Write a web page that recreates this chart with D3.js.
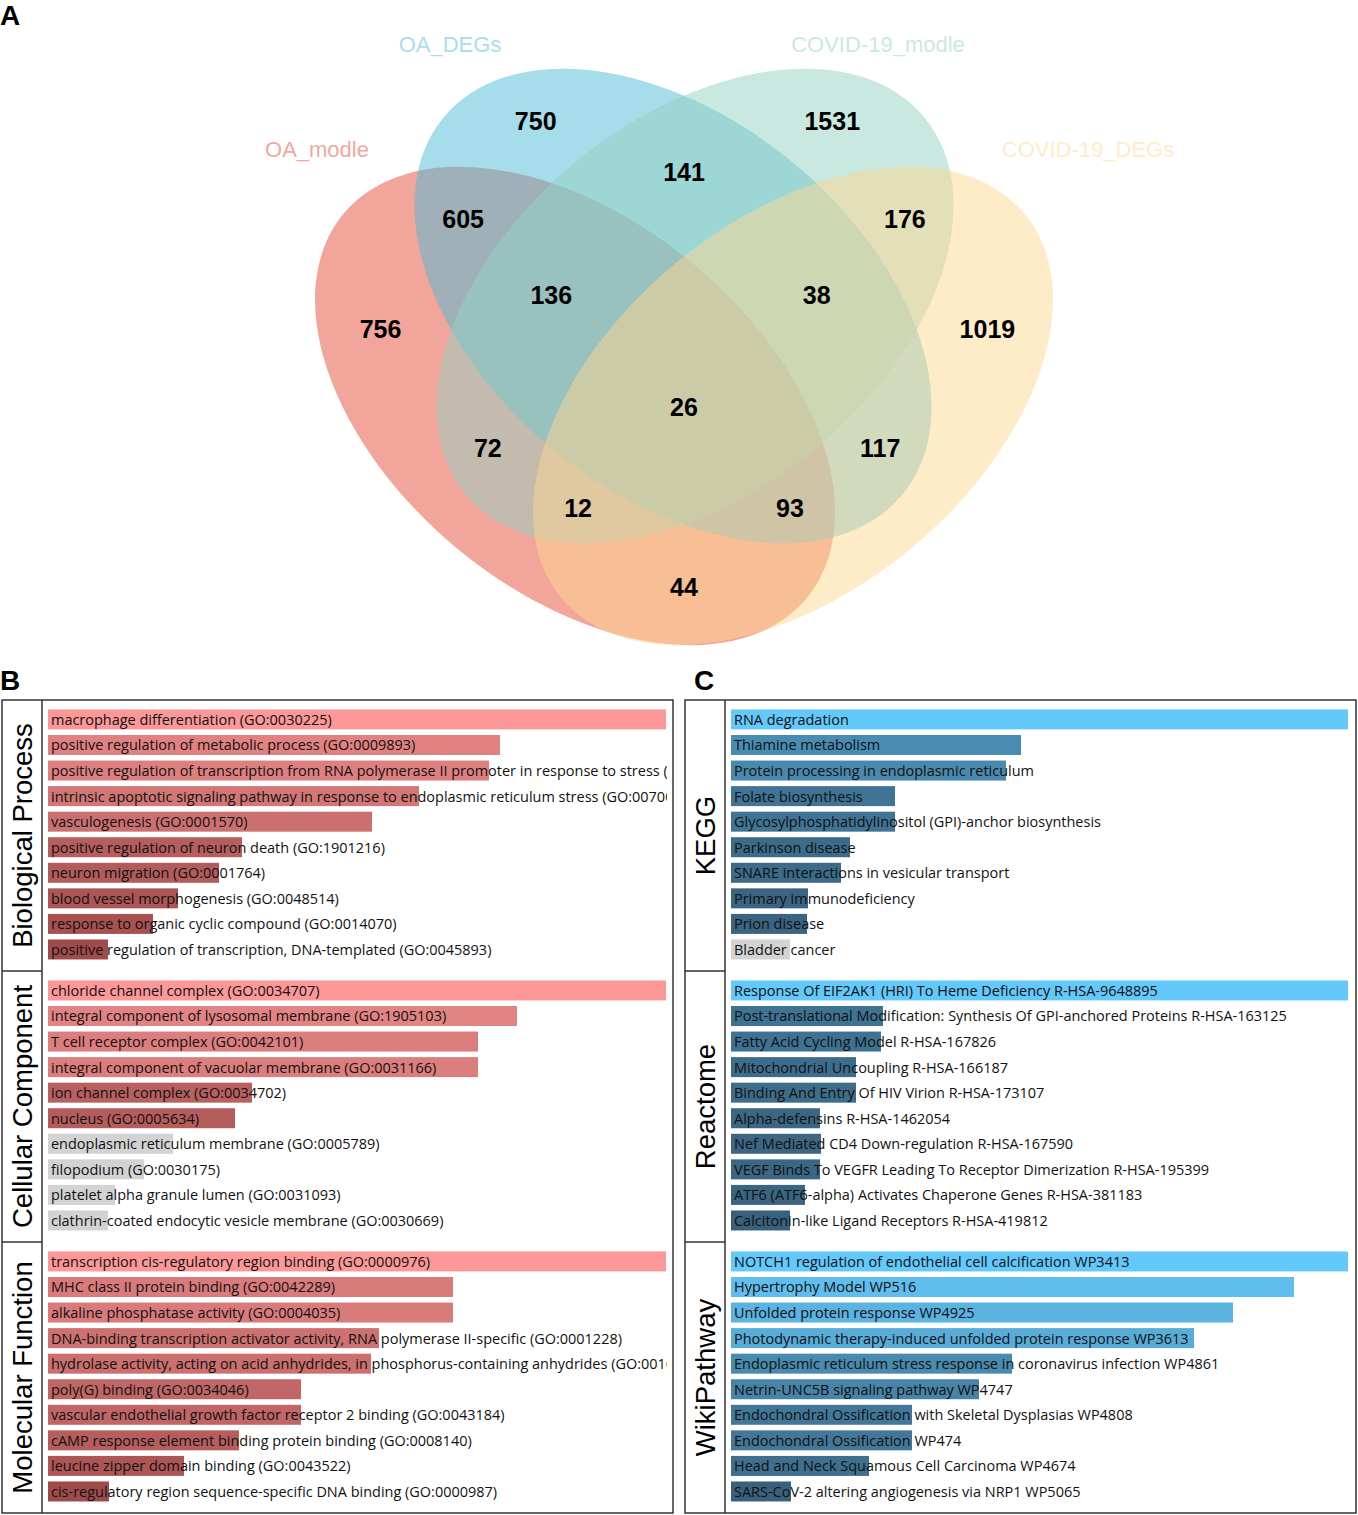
<!DOCTYPE html>
<html>
<head>
<meta charset="utf-8">
<script src="https://cdn.jsdelivr.net/npm/d3@7"></script>
<style>
  body { margin: 0; background: #fff; }
  svg { display: block; }
</style>
</head>
<body>
<svg id="chart" width="1358" height="1515"></svg>
<script>
// ================= DATA =================
// Venn: four sets and the counts of each region (keys list the sets a region belongs to)
const setNames = ["OA_modle", "OA_DEGs", "COVID-19_modle", "COVID-19_DEGs"];
const setKeys = ["A", "B", "C", "D"];
const regionKeys = ["A", "B", "C", "D", "AB", "BC", "CD", "AD", "AC", "BD", "ABC", "BCD", "ACD", "ABD", "ABCD"];
const regionCounts = [756, 750, 1531, 1019, 605, 141, 176, 44, 72, 117, 136, 38, 12, 93, 26];

// Panel B: GO enrichment
const goCategories = ["Biological Process", "Cellular Component", "Molecular Function"];
const bpTerms = [
  "macrophage differentiation (GO:0030225)",
  "positive regulation of metabolic process (GO:0009893)",
  "positive regulation of transcription from RNA polymerase II promoter in response to stress (GO:0036003)",
  "intrinsic apoptotic signaling pathway in response to endoplasmic reticulum stress (GO:0070059)",
  "vasculogenesis (GO:0001570)",
  "positive regulation of neuron death (GO:1901216)",
  "neuron migration (GO:0001764)",
  "blood vessel morphogenesis (GO:0048514)",
  "response to organic cyclic compound (GO:0014070)",
  "positive regulation of transcription, DNA-templated (GO:0045893)"
];
const bpScores = [6.18, 4.52, 4.41, 3.71, 3.24, 1.94, 1.71, 1.30, 1.05, 0.60];
const bpSignificant = [1, 1, 1, 1, 1, 1, 1, 1, 1, 1];

const ccTerms = [
  "chloride channel complex (GO:0034707)",
  "integral component of lysosomal membrane (GO:1905103)",
  "T cell receptor complex (GO:0042101)",
  "integral component of vacuolar membrane (GO:0031166)",
  "ion channel complex (GO:0034702)",
  "nucleus (GO:0005634)",
  "endoplasmic reticulum membrane (GO:0005789)",
  "filopodium (GO:0030175)",
  "platelet alpha granule lumen (GO:0031093)",
  "clathrin-coated endocytic vesicle membrane (GO:0030669)"
];
const ccScores = [6.18, 4.69, 4.30, 4.30, 2.04, 1.87, 1.25, 0.96, 0.67, 0.60];
const ccSignificant = [1, 1, 1, 1, 1, 1, 0, 0, 0, 0];

const mfTerms = [
  "transcription cis-regulatory region binding (GO:0000976)",
  "MHC class II protein binding (GO:0042289)",
  "alkaline phosphatase activity (GO:0004035)",
  "DNA-binding transcription activator activity, RNA polymerase II-specific (GO:0001228)",
  "hydrolase activity, acting on acid anhydrides, in phosphorus-containing anhydrides (GO:0016818)",
  "poly(G) binding (GO:0034046)",
  "vascular endothelial growth factor receptor 2 binding (GO:0043184)",
  "cAMP response element binding protein binding (GO:0008140)",
  "leucine zipper domain binding (GO:0043522)",
  "cis-regulatory region sequence-specific DNA binding (GO:0000987)"
];
const mfScores = [6.18, 4.05, 4.05, 3.31, 3.23, 2.53, 2.53, 1.91, 1.36, 0.61];
const mfSignificant = [1, 1, 1, 1, 1, 1, 1, 1, 1, 1];

// Panel C: pathway enrichment
const pathCategories = ["KEGG", "Reactome", "WikiPathway"];
const keggTerms = [
  "RNA degradation",
  "Thiamine metabolism",
  "Protein processing in endoplasmic reticulum",
  "Folate biosynthesis",
  "Glycosylphosphatidylinositol (GPI)-anchor biosynthesis",
  "Parkinson disease",
  "SNARE interactions in vesicular transport",
  "Primary immunodeficiency",
  "Prion disease",
  "Bladder cancer"
];
const keggScores = [6.17, 2.90, 2.75, 1.64, 1.64, 1.19, 1.10, 0.77, 0.76, 0.59];
const keggSignificant = [1, 1, 1, 1, 1, 1, 1, 1, 1, 0];

const reactomeTerms = [
  "Response Of EIF2AK1 (HRI) To Heme Deficiency R-HSA-9648895",
  "Post-translational Modification: Synthesis Of GPI-anchored Proteins R-HSA-163125",
  "Fatty Acid Cycling Model R-HSA-167826",
  "Mitochondrial Uncoupling R-HSA-166187",
  "Binding And Entry Of HIV Virion R-HSA-173107",
  "Alpha-defensins R-HSA-1462054",
  "Nef Mediated CD4 Down-regulation R-HSA-167590",
  "VEGF Binds To VEGFR Leading To Receptor Dimerization R-HSA-195399",
  "ATF6 (ATF6-alpha) Activates Chaperone Genes R-HSA-381183",
  "Calcitonin-like Ligand Receptors R-HSA-419812"
];
const reactomeScores = [6.17, 1.52, 1.50, 1.25, 1.25, 0.89, 0.90, 0.89, 0.74, 0.59];
const reactomeSignificant = [1, 1, 1, 1, 1, 1, 1, 1, 1, 1];

const wikiTerms = [
  "NOTCH1 regulation of endothelial cell calcification WP3413",
  "Hypertrophy Model WP516",
  "Unfolded protein response WP4925",
  "Photodynamic therapy-induced unfolded protein response WP3613",
  "Endoplasmic reticulum stress response in coronavirus infection WP4861",
  "Netrin-UNC5B signaling pathway WP4747",
  "Endochondral Ossification with Skeletal Dysplasias WP4808",
  "Endochondral Ossification WP474",
  "Head and Neck Squamous Cell Carcinoma WP4674",
  "SARS-CoV-2 altering angiogenesis via NRP1 WP5065"
];
const wikiScores = [6.17, 5.63, 5.02, 4.63, 2.81, 2.48, 1.81, 1.81, 1.38, 0.60];
const wikiSignificant = [1, 1, 1, 1, 1, 1, 1, 1, 1, 1];

// ================= STYLE / LAYOUT =================
const setColors = ["#E64B35", "#4DBBD5", "#91D1C2", "#FDD792"];
const ellipseGeom = [ // pixel geometry of the four Venn ellipses
  { cx: 575, cy: 406, rx: 301, ry: 185, rot: 39.7 },
  { cx: 673, cy: 306, rx: 297, ry: 187, rot: 39.3 },
  { cx: 695, cy: 306, rx: 297, ry: 187, rot: -39.3 },
  { cx: 793, cy: 406, rx: 301, ry: 185, rot: -39.7 }
];
const setLabelPos = [[317, 157], [450, 52], [878, 52], [1088, 157]];
const sansFont = "'Liberation Sans', Arial, Helvetica, sans-serif";
const barFont = "'Open Sans', 'Noto Sans', sans-serif";

const svg = d3.select("#chart");

// ================= PANEL LETTERS =================
svg.selectAll("text.panel-letter")
  .data([["A", 0, 25], ["B", 0, 690], ["C", 694, 690]])
  .join("text")
  .attr("class", "panel-letter")
  .attr("x", d => d[1]).attr("y", d => d[2])
  .attr("font-family", sansFont).attr("font-weight", "bold").attr("font-size", 28)
  .attr("fill", "#000")
  .text(d => d[0]);

// ================= VENN =================
const venn = svg.append("g").attr("class", "venn");
const rad = Math.PI / 180;
function insideEllipse(e, x, y) {
  const c = Math.cos(e.rot * rad), s = Math.sin(e.rot * rad);
  const dx = x - e.cx, dy = y - e.cy;
  const u = dx * c + dy * s, v = -dx * s + dy * c;
  return (u * u) / (e.rx * e.rx) + (v * v) / (e.ry * e.ry) <= 1;
}

venn.selectAll("ellipse")
  .data(ellipseGeom)
  .join("ellipse")
  .attr("cx", 0).attr("cy", 0)
  .attr("rx", d => d.rx).attr("ry", d => d.ry)
  .attr("transform", d => `translate(${d.cx},${d.cy}) rotate(${d.rot})`)
  .attr("fill", (d, i) => setColors[i])
  .attr("fill-opacity", 0.5)
  .attr("stroke", "none");

venn.selectAll("text.set-label")
  .data(setNames)
  .join("text")
  .attr("class", "set-label")
  .attr("x", (d, i) => setLabelPos[i][0])
  .attr("y", (d, i) => setLabelPos[i][1])
  .attr("text-anchor", "middle")
  .attr("font-family", sansFont).attr("font-size", 22)
  .attr("fill", (d, i) => setColors[i]).attr("fill-opacity", 0.5)
  .text(d => d);

// Label anchor for every region: centroid of the region's "thick core"
// (cells whose distance to the region boundary is at least half the maximum)
(function placeRegionLabels() {
  const step = 2, gx0 = 290, gy0 = 40, gx1 = 1080, gy1 = 670;
  const W = Math.floor((gx1 - gx0) / step) + 1, H = Math.floor((gy1 - gy0) / step) + 1;
  const mask = new Int8Array(W * H);
  for (let j = 0; j < H; j++) for (let i = 0; i < W; i++) {
    const x = gx0 + i * step, y = gy0 + j * step;
    let m = 0;
    ellipseGeom.forEach((e, k) => { if (insideEllipse(e, x, y)) m |= (1 << k); });
    mask[j * W + i] = m;
  }
  const dist = new Float32Array(W * H);
  for (let j = 0; j < H; j++) for (let i = 0; i < W; i++) {
    const idx = j * W + i, m = mask[idx];
    let edge = (i === 0 || j === 0 || i === W - 1 || j === H - 1);
    if (!edge) edge = mask[idx - 1] !== m || mask[idx + 1] !== m || mask[idx - W] !== m || mask[idx + W] !== m;
    dist[idx] = edge ? 0 : 1e9;
  }
  const r2 = Math.SQRT2;
  for (let j = 1; j < H - 1; j++) for (let i = 1; i < W - 1; i++) {
    const idx = j * W + i;
    dist[idx] = Math.min(dist[idx], dist[idx - 1] + 1, dist[idx - W] + 1, dist[idx - W - 1] + r2, dist[idx - W + 1] + r2);
  }
  for (let j = H - 2; j > 0; j--) for (let i = W - 2; i > 0; i--) {
    const idx = j * W + i;
    dist[idx] = Math.min(dist[idx], dist[idx + 1] + 1, dist[idx + W] + 1, dist[idx + W + 1] + r2, dist[idx + W - 1] + r2);
  }
  const maxD = {};
  for (let idx = 0; idx < W * H; idx++) {
    const m = mask[idx];
    if (m && (!(m in maxD) || dist[idx] > maxD[m])) maxD[m] = dist[idx];
  }
  const acc = {};
  for (let j = 0; j < H; j++) for (let i = 0; i < W; i++) {
    const idx = j * W + i, m = mask[idx];
    if (!m || dist[idx] < 0.5 * maxD[m]) continue;
    const a = acc[m] || (acc[m] = { sx: 0, sy: 0, n: 0 });
    a.sx += gx0 + i * step; a.sy += gy0 + j * step; a.n++;
  }
  const keyToMask = k => k.split("").reduce((s, ch) => s | (1 << setKeys.indexOf(ch)), 0);
  const labels = regionKeys.map((k, i) => {
    const a = acc[keyToMask(k)];
    return { key: k, count: regionCounts[i], x: a.sx / a.n, y: a.sy / a.n };
  });
  venn.selectAll("text.region-count")
    .data(labels)
    .join("text")
    .attr("class", "region-count")
    .attr("x", d => d.x).attr("y", d => d.y)
    .attr("text-anchor", "middle").attr("dominant-baseline", "central")
    .attr("font-family", sansFont).attr("font-weight", "bold").attr("font-size", 25)
    .attr("fill", "#000")
    .text(d => d.count);
})();

// ================= BAR PANELS =================
// auto-size bar text so that a reference term has the measured width
const probe = svg.append("text").attr("font-family", barFont).attr("font-size", 100)
  .text("macrophage differentiation (GO:0030225)");
const probeW = probe.node().getComputedTextLength();
probe.remove();
const barFontSize = 100 * 281 / probeW;

function drawPanel(cfg) {
  const g = svg.append("g");
  const secH = (cfg.bottom - cfg.top) / cfg.sections.length;
  const x = d3.scaleLinear().range([cfg.barStart, cfg.barEnd]);
  const clipId = "clip-" + cfg.id;
  svg.append("defs").append("clipPath").attr("id", clipId)
    .append("rect").attr("x", cfg.colRight + 1).attr("y", cfg.top)
    .attr("width", cfg.barEnd + 1 - cfg.colRight - 1).attr("height", cfg.bottom - cfg.top);

  cfg.sections.forEach((sec, si) => {
    const top = cfg.top + si * secH;
    const y = d3.scaleBand().domain(d3.range(sec.terms.length))
      .range([top, top + secH]).paddingInner(0.2175).paddingOuter(0.41).align(0.45);
    const maxV = d3.max(sec.scores);
    x.domain([0, maxV]);
    const col = d3.scaleLinear().domain([0, maxV]).range([cfg.colorLow, cfg.colorHigh]).interpolate(d3.interpolateRgb);
    const rows = sec.terms.map((t, i) => ({ term: t, v: sec.scores[i], sig: sec.sig[i], i }));
    const sg = g.append("g");
    sg.selectAll("rect.bar").data(rows).join("rect")
      .attr("class", "bar")
      .attr("x", x(0)).attr("y", d => y(d.i))
      .attr("width", d => x(d.v) - x(0)).attr("height", y.bandwidth())
      .attr("fill", d => d.sig ? col(d.v) : cfg.gray);
    sg.append("g").attr("clip-path", `url(#${clipId})`)
      .selectAll("text").data(rows).join("text")
      .attr("x", x(0) + 3).attr("y", d => y(d.i) + y.bandwidth() / 2)
      .attr("dominant-baseline", "central")
      .attr("font-family", barFont).attr("font-size", barFontSize)
      .attr("fill", "#111")
      .text(d => d.term);
    // category label
    g.append("text")
      .attr("transform", `translate(${cfg.left + 30},${top + secH / 2}) rotate(-90)`)
      .attr("text-anchor", "middle")
      .attr("font-family", sansFont).attr("font-size", 27.5).attr("fill", "#000")
      .text(sec.name);
    if (si > 0) {
      g.append("line").attr("x1", cfg.left).attr("x2", cfg.colRight)
        .attr("y1", top).attr("y2", top)
        .attr("stroke", "#333").attr("stroke-width", 1.5);
    }
  });
  g.append("rect").attr("x", cfg.left).attr("y", cfg.top)
    .attr("width", cfg.right - cfg.left).attr("height", cfg.bottom - cfg.top)
    .attr("fill", "none").attr("stroke", "#333").attr("stroke-width", 1.5);
  g.append("line").attr("x1", cfg.colRight).attr("x2", cfg.colRight)
    .attr("y1", cfg.top).attr("y2", cfg.bottom)
    .attr("stroke", "#333").attr("stroke-width", 1.5);
}

drawPanel({
  id: "go", left: 2, right: 673, top: 700, bottom: 1513, colRight: 42, barStart: 48, barEnd: 666,
  colorLow: "rgb(150,67,67)", colorHigh: "rgb(252,152,152)", gray: "#d3d3d3",
  sections: [
    { name: goCategories[0], terms: bpTerms, scores: bpScores, sig: bpSignificant },
    { name: goCategories[1], terms: ccTerms, scores: ccScores, sig: ccSignificant },
    { name: goCategories[2], terms: mfTerms, scores: mfScores, sig: mfSignificant }
  ]
});
drawPanel({
  id: "path", left: 685, right: 1356, top: 700, bottom: 1513, colRight: 725, barStart: 731, barEnd: 1348,
  colorLow: "rgb(52,86,112)", colorHigh: "rgb(99,200,250)", gray: "#d3d3d3",
  sections: [
    { name: pathCategories[0], terms: keggTerms, scores: keggScores, sig: keggSignificant },
    { name: pathCategories[1], terms: reactomeTerms, scores: reactomeScores, sig: reactomeSignificant },
    { name: pathCategories[2], terms: wikiTerms, scores: wikiScores, sig: wikiSignificant }
  ]
});
</script>
</body>
</html>
